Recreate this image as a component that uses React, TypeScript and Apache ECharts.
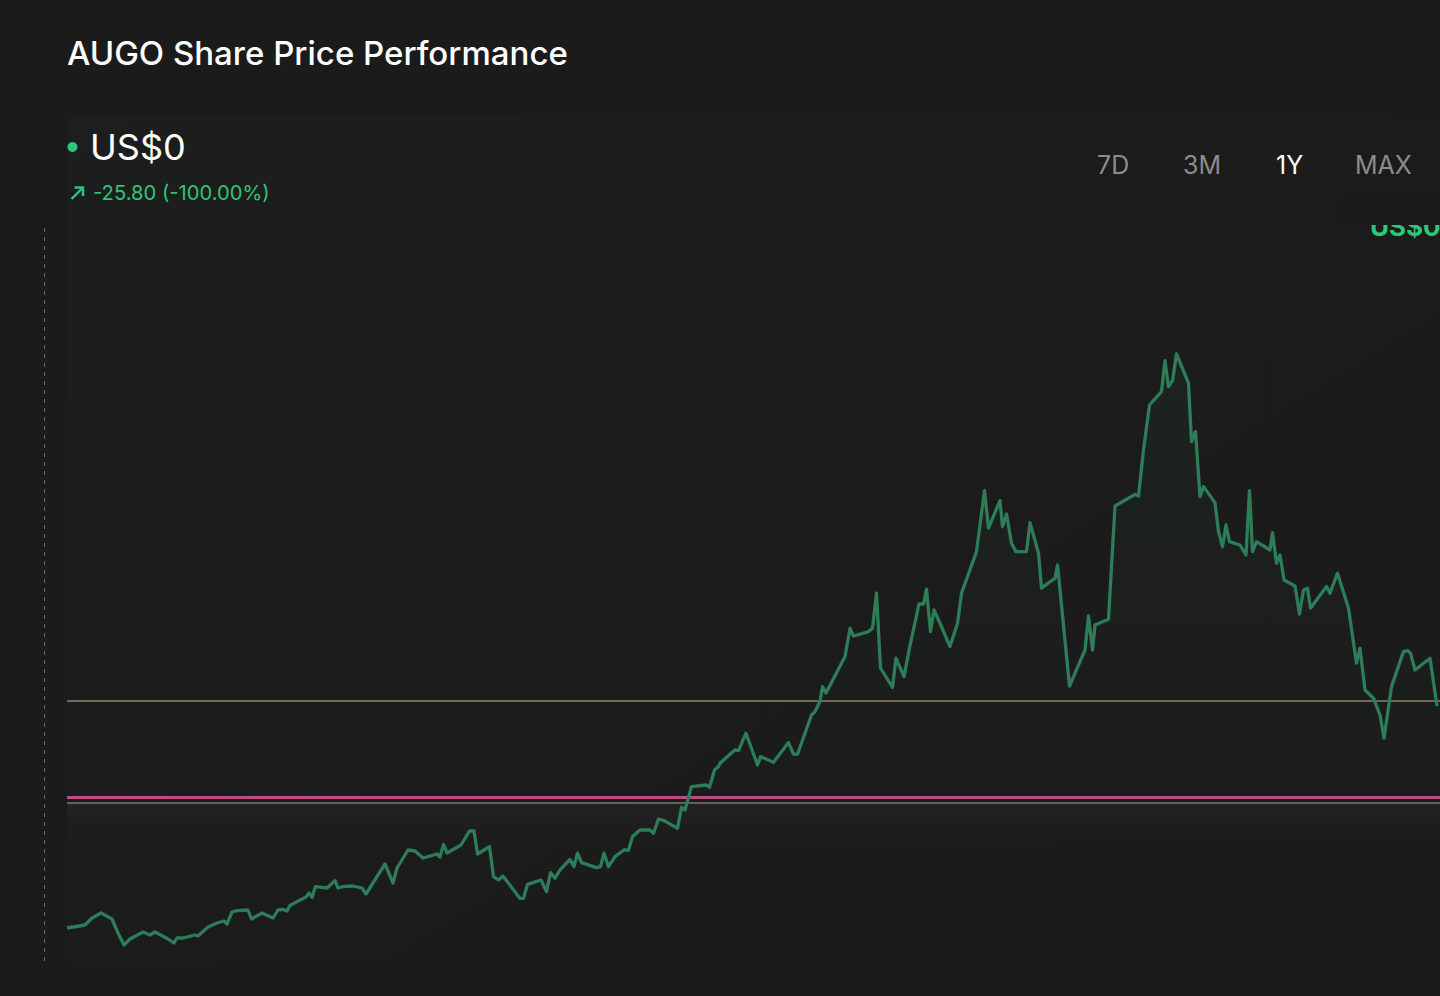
import React, { useEffect, useRef } from "react";
import * as echarts from "echarts";

const TITLE = "AUGO Share Price Performance";
const CURRENT_PRICE = "US$0";
const CHANGE_TEXT = "-25.80 (-100.00%)";
const RANGE_BUTTONS = ["7D", "3M", "1Y", "MAX"];
const ACTIVE_RANGE = "1Y";

// trading-day index
const days = [
  0, 3.6, 5, 6.8, 9, 10.2, 11.4, 12.6, 15.2, 16.6, 17.6, 20.2, 21.4, 22, 23.2, 25.6, 26.2, 28.2, 30, 31.4,
  32, 33, 34, 36.2, 36.9, 39, 41.2, 42.2, 43.2, 44, 44.6, 47.8, 48.4, 49, 49.7, 52, 53.6, 54.2, 55.2, 57.2,
  59, 59.8, 63.6, 65.2, 66, 68.2, 69.6, 71.2, 74, 74.6, 75.3, 76, 78.8, 80.5, 81.4, 82.1, 84.5, 85.3, 86.3, 87.2,
  90.6, 91.3, 92.1, 94.8, 95.9, 96.7, 97.6, 98.6, 100.6, 101.4, 102.1, 102.9, 105.9, 106.7, 107.4, 108.3, 109.6, 111.4, 112.3, 113.1,
  114.6, 116.6, 117.3, 118.3, 119.4, 122.1, 122.9, 123.6, 124.9, 127.9, 128.5, 129.5, 130.3, 130.6, 132.6, 133.6, 134.3, 135.8, 138.1, 138.7,
  141.3, 144.3, 145.3, 146.1, 148.9, 149.6, 150.6, 151.1, 151.8, 155.6, 156.6, 157.3, 160.3, 161.1, 161.9, 162.7, 165.1, 165.8, 167.4, 168.5,
  170.4, 171.3, 171.9, 172.7, 173.4, 174.6, 176.6, 178.1, 178.9, 181.9, 183.5, 184.3, 186.6, 187.1, 187.9, 188.9, 189.8, 191.9, 192.6, 194.3,
  194.9, 197.6, 198.1, 200.5, 202.9, 203.6, 204.3, 205.1, 205.6, 208.3, 209.6, 213.6, 214.3, 215.3, 216.5, 218.9, 219.6, 220.3, 221.1, 221.9,
  224.3, 224.9, 225.7, 226.6, 227.3, 229.6, 230.3, 231.1, 231.8, 232.5, 234.6, 235.8, 236.5, 237.1, 237.9, 240.6, 241.1, 241.9, 242.6, 243.4,
  245.6, 246.5, 247.3, 248.1, 248.7, 251.9, 252.6, 254.1, 256.3, 257.9, 258.6, 259.6, 261.3, 262.6, 263.4, 264.9, 267.3, 268.1, 268.7, 269.6,
  272.6, 274,
];

// share price, US$
const prices = [
  25.85, 26.0, 26.35, 26.6, 26.3, 25.6, 25.0, 25.3, 25.65, 25.5, 25.65, 25.3, 25.1, 25.35, 25.35, 25.5, 25.45, 25.9, 26.1, 26.2,
  26.05, 26.65, 26.72, 26.75, 26.3, 26.6, 26.35, 26.75, 26.78, 26.7, 26.98, 27.4, 27.6, 27.38, 27.92, 27.85, 28.22, 27.85, 27.92, 27.95,
  27.85, 27.55, 29.05, 28.1, 28.85, 29.75, 29.7, 29.35, 29.55, 29.4, 30.03, 29.6, 30.0, 30.7, 30.7, 29.55, 29.92, 28.42, 28.25, 28.45,
  27.33, 27.33, 28.03, 28.25, 27.67, 28.62, 28.34, 28.75, 29.28, 28.92, 29.59, 29.12, 28.87, 28.92, 29.59, 28.92, 29.42, 29.75, 29.75, 30.42,
  30.75, 30.75, 30.59, 31.3, 31.22, 30.84, 31.89, 31.75, 32.92, 33.0, 32.89, 33.75, 33.92, 34.09, 34.54, 34.75, 34.72, 35.59, 34.0, 34.42,
  34.14, 35.12, 34.54, 34.54, 36.5, 36.67, 37.17, 37.92, 37.6, 39.42, 40.84, 40.45, 40.67, 40.84, 42.59, 38.85, 37.88, 39.34, 38.42, 39.85,
  42.05, 42.05, 42.79, 40.67, 41.75, 41.09, 39.92, 41.09, 42.59, 44.67, 47.72, 45.84, 47.22, 45.92, 46.55, 45.09, 44.67, 44.67, 46.12, 44.59,
  42.84, 43.34, 44.0, 37.95, 39.34, 39.75, 41.45, 39.75, 41.0, 41.29, 46.95, 47.53, 47.45, 49.75, 52.0, 52.67, 54.22, 52.92, 53.22, 54.55,
  53.09, 50.17, 50.67, 47.42, 47.92, 47.12, 45.67, 44.92, 46.0, 45.17, 45.0, 44.5, 47.72, 44.67, 45.17, 44.75, 45.62, 44.09, 44.5, 43.25,
  42.95, 41.55, 42.75, 42.84, 41.84, 42.92, 42.59, 43.59, 41.84, 39.09, 39.84, 37.75, 37.34, 36.5, 35.34, 37.92, 39.67, 39.72, 39.59, 38.75,
  39.34, 36.95,
];

// horizontal reference levels, US$
const upperLevel = 37.2;
const pinkLevel = 32.38;
const lowerLevel = 32.1;
const bandBottom = 30.0;

const Y_MIN = 24;
const Y_MAX = 61;
const X_MIN = 0;
const X_MAX = 274.6;

const BG = "#1b1b1b";
const GREEN = "#2fc57a";
const LINE_GREEN = "#2c7d58";

export default function App() {
  const ref = useRef<HTMLDivElement>(null);

  useEffect(() => {
    if (!ref.current) return;
    const chart = echarts.init(ref.current, undefined, { renderer: "svg" });

    const seriesData = days.map((d, i) => [d, prices[i]]);

    const buttonX = [1097, 1183, 1276, 1355];

    const option: any = {
      animation: false,
      backgroundColor: BG,
      grid: { left: 67, right: 0, top: 225, bottom: 31, containLabel: false },
      xAxis: {
        type: "value",
        min: X_MIN,
        max: X_MAX,
        show: false,
        splitLine: { show: false },
      },
      yAxis: {
        type: "value",
        min: Y_MIN,
        max: Y_MAX,
        show: false,
        splitLine: { show: false },
      },
      graphic: [
        // faint plot panel
        {
          type: "rect",
          z: -10,
          silent: true,
          shape: { x: 67, y: 115, width: 1373, height: 850 },
          style: {
            fill: new echarts.graphic.LinearGradient(0, 0, 1, 1, [
              { offset: 0, color: "rgba(34,40,37,0.22)" },
              { offset: 0.5, color: "rgba(30,32,30,0.06)" },
              { offset: 1, color: "rgba(27,27,27,0)" },
            ]),
          },
        },
        {
          type: "text",
          left: 67,
          top: 36,
          style: {
            text: TITLE,
            fill: "#ffffff",
            font: '500 33px "Inter", "Noto Sans", sans-serif',
          },
        },
        {
          type: "circle",
          shape: { cx: 72.5, cy: 147, r: 5 },
          style: { fill: GREEN },
        },
        {
          type: "text",
          left: 90,
          top: 129,
          style: {
            text: CURRENT_PRICE,
            fill: "#ffffff",
            font: '400 36px "Inter", "Noto Sans", sans-serif',
          },
        },
        {
          type: "line",
          shape: { x1: 71.5, y1: 199, x2: 83, y2: 187.5 },
          style: { stroke: GREEN, lineWidth: 2.4 },
        },
        {
          type: "polyline",
          shape: { points: [[74.5, 187.5], [83, 187.5], [83, 196]] },
          style: { stroke: GREEN, lineWidth: 2.4, fill: "none" },
        },
        {
          type: "text",
          left: 93,
          top: 182,
          style: {
            text: CHANGE_TEXT,
            fill: GREEN,
            font: '400 20.2px "Inter", "Noto Sans", sans-serif',
          },
        },
        ...RANGE_BUTTONS.map((b, i) => ({
          type: "text",
          left: buttonX[i],
          top: 152,
          style: {
            text: b,
            fill: b === ACTIVE_RANGE ? "#ffffff" : "#8c8c8c",
            font: '400 25px "Inter", "Noto Sans", sans-serif',
          },
        })),
        // dashed vertical guide
        {
          type: "line",
          shape: { x1: 44.5, y1: 228, x2: 44.5, y2: 966 },
          style: { stroke: "#6b6b6b", lineWidth: 1, lineDash: [4, 5] },
        },
        // clipped price tag at the top right
        {
          type: "text",
          left: 1370,
          top: 213,
          z: 50,
          style: {
            text: CURRENT_PRICE,
            fill: GREEN,
            font: '700 26px "Inter", "Noto Sans", sans-serif',
          },
        },
        {
          type: "rect",
          z: 60,
          shape: { x: 1340, y: 196, width: 100, height: 29 },
          style: { fill: BG },
        },
      ],
      series: [
        {
          type: "line",
          data: seriesData,
          showSymbol: false,
          symbol: "none",
          lineStyle: { color: LINE_GREEN, width: 3.3, join: "round" },
          areaStyle: {
            color: new echarts.graphic.LinearGradient(0, 0, 0, 1, [
              { offset: 0, color: "rgba(43,123,87,0.12)" },
              { offset: 0.5, color: "rgba(43,123,87,0.04)" },
              { offset: 0.8, color: "rgba(43,123,87,0)" },
            ]),
          },
          z: 5,
          markArea: {
            silent: true,
            itemStyle: {
              color: new echarts.graphic.LinearGradient(0, 0, 0, 1, [
                { offset: 0, color: "rgba(255,255,255,0.03)" },
                { offset: 1, color: "rgba(255,255,255,0)" },
              ]),
            },
            data: [[{ yAxis: lowerLevel }, { yAxis: bandBottom }]],
          },
          markLine: {
            silent: true,
            symbol: "none",
            label: { show: false },
            data: [
              { yAxis: upperLevel, lineStyle: { color: "#8a8672", width: 1.5, type: "solid" } },
              { yAxis: lowerLevel, lineStyle: { color: "#7e786b", width: 1.5, type: "solid" } },
              { yAxis: pinkLevel, lineStyle: { color: "#bf4a84", width: 3, type: "solid" } },
            ],
          },
        },
      ],
    };

    chart.setOption(option);
    return () => chart.dispose();
  }, []);

  return (
    <div
      ref={ref}
      style={{ position: "fixed", left: 0, top: 0, width: 1440, height: 996, background: BG }}
    />
  );
}
